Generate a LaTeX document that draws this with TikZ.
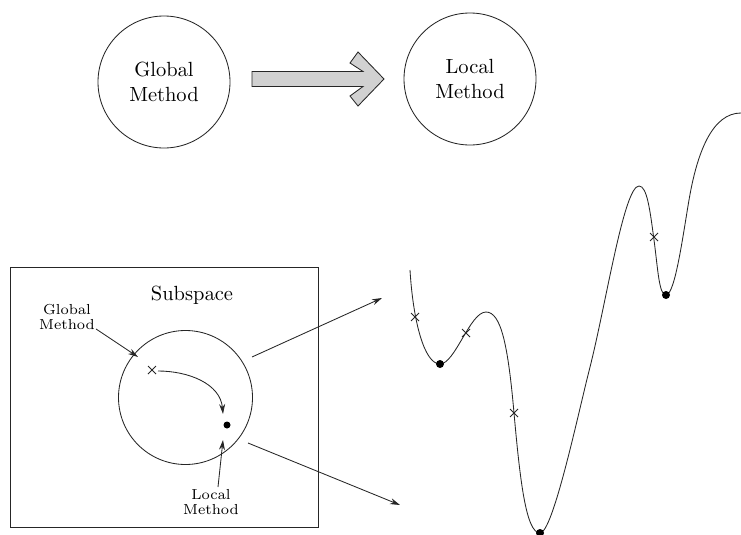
\documentclass[tikz,border=0pt]{standalone}
\usetikzlibrary{arrows.meta}
\font\bigfnt=cmr10 at 20.5pt
\font\lblfnt=cmr7 at 14.5pt
\newcommand\xmk[1]{\draw[ln] (#1) +(-4,-4) -- +(4,4) (#1) +(-4,4) -- +(4,-4);}
\begin{document}
\begin{tikzpicture}[x=1pt,y=1pt,
  ln/.style={line width=0.85pt, draw=black!85},
  bigcirc/.style={ln, circle, minimum size=132pt, inner sep=0pt, align=center, font=\fontsize{20.5}{25}\selectfont\bigfnt},
  smalllbl/.style={align=center, font=\fontsize{14.5}{15.5}\selectfont\lblfnt, inner sep=0pt},
  arr/.style={ln, -{Stealth[length=10pt,width=6pt]}},
  dotpt/.style={fill=black}]
\useasboundingbox (0,0) rectangle (741,-535);
% top row
\node[bigcirc] (gm) at (164,-82) {Global\\Method};
\node[bigcirc] (lm) at (470,-79) {Local\\Method};
\draw[ln, fill=black!18, line join=miter]
  (252,-71.5) -- (363,-71.5) -- (350,-63) -- (358,-52) -- (384,-79)
  -- (358,-106) -- (350,-96) -- (363,-86.5) -- (252,-86.5) -- cycle;
% subspace box
\node[ln, draw, minimum width=308pt, minimum height=260pt, inner sep=0pt] (box) at (164,-397) {};
\node[font=\fontsize{20.5}{25}\selectfont\bigfnt, inner sep=0pt] (sub) at (192,-295) {Subspace};
\node[ln, draw, circle, minimum size=134pt, inner sep=0pt] (sc) at (185.5,-397.5) {};
\node[smalllbl] (glbl) at (67,-317) {Global\\Method};
\node[smalllbl] (llbl) at (211,-502) {Local\\Method};
\coordinate (gx) at (152,-370);
\coordinate (c0) at (158,-371);
\coordinate (c1) at (223,-414);
\coordinate (ld) at (227,-425);
\coordinate (ga1) at (138,-357);
\coordinate (la1) at (223,-440);
\xmk{gx}
\fill[dotpt] (ld) circle (3.5pt);
\draw[arr] ([xshift=1pt,yshift=1pt]glbl.south east) -- (ga1);
\draw[arr] ([xshift=7pt,yshift=2pt]llbl.north) -- (la1);
\draw[arr] (c0) to[out=0,in=95] (c1);
% arrows to landscape
\coordinate (a1s) at (252,-357);
\coordinate (a1e) at (382,-298);
\coordinate (a2s) at (248,-443);
\coordinate (a2e) at (400,-505);
\draw[arr] (a1s) -- (a1e);
\draw[arr] (a2s) -- (a2e);
% landscape curve
\draw[ln] (410,-270)
  .. controls (413,-320) and (424,-364) .. (440,-364)
  .. controls (455,-364) and (470,-312) .. (486,-312)
  .. controls (501,-312) and (508,-345) .. (514,-413)
  .. controls (520,-480) and (526,-533) .. (540,-533)
  .. controls (553,-533) and (578,-414) .. (590,-367)
  .. controls (606,-304) and (624,-186) .. (639,-186)
  .. controls (647,-186) and (650,-210) .. (654,-240)
  .. controls (658,-270) and (659,-295) .. (666,-295)
  .. controls (675,-295) and (683,-235) .. (689,-200)
  .. controls (697,-153) and (712,-113) .. (741,-113);
\coordinate (x1) at (415,-317);
\coordinate (x2) at (466,-333);
\coordinate (x3) at (514,-413);
\coordinate (x4) at (654,-237);
\xmk{x1}\xmk{x2}\xmk{x3}\xmk{x4}
\fill[dotpt] (440,-364) circle (4pt);
\fill[dotpt] (540,-533) circle (4pt);
\fill[dotpt] (666,-295) circle (4pt);
\end{tikzpicture}
\end{document}
